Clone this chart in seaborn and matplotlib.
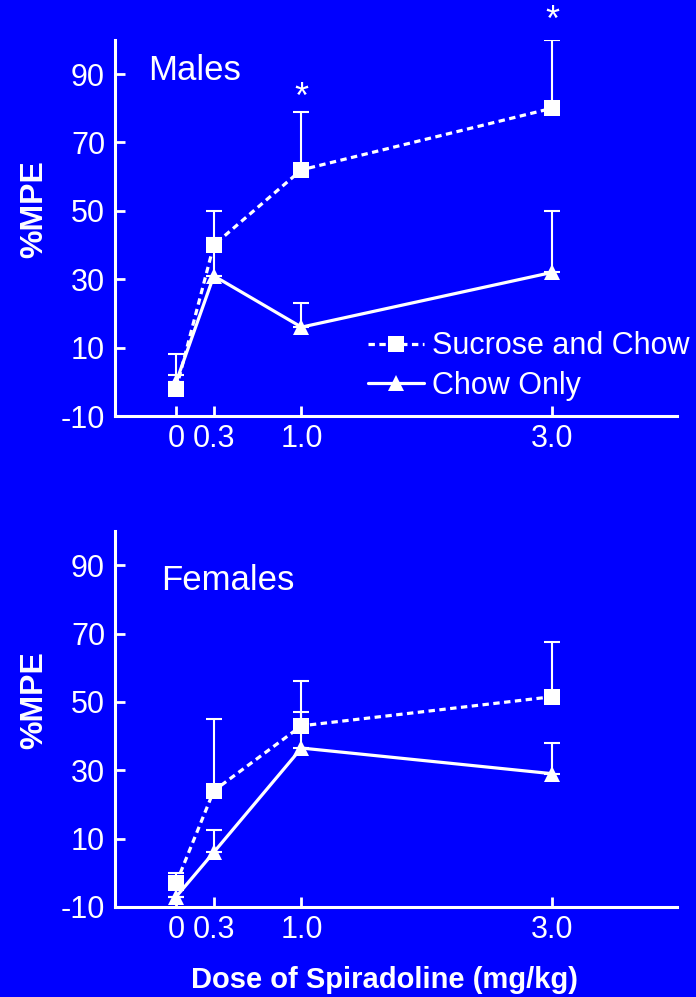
import numpy as np
import pandas as pd
import matplotlib
matplotlib.use("Agg")
import matplotlib.pyplot as plt
import seaborn as sns
from matplotlib.lines import Line2D

doses = [0.0, 0.3, 1.0, 3.0]
dose_labels = ["0", "0.3", "1.0", "3.0"]
yticks = [-10, 10, 30, 50, 70, 90]

male_sucrose = [-2, 40, 62, 80]
male_sucrose_err = [10, 10, 17, 20]
male_chow = [0, 31, 16, 32]
male_chow_err = [2, 11, 7, 18]

female_sucrose = [-3, 24, 43, 51.5]
female_sucrose_err = [3, 21, 13, 16]
female_chow = [-7, 6, 36.5, 29]
female_chow_err = [0, 6.5, 10.5, 9]

groups = ["Sucrose and Chow", "Chow Only"]
panels = ["Males", "Females"]

BG = "#0000FF"
FG = "white"

sns.set_theme(style="white", rc={"axes.facecolor": BG, "figure.facecolor": BG})
plt.rcParams['font.family'] = ['Liberation Sans', 'DejaVu Sans']
plt.rcParams['axes.unicode_minus'] = False

rows = []
for panel, s, se, c, ce in [("Males", male_sucrose, male_sucrose_err, male_chow, male_chow_err),
                            ("Females", female_sucrose, female_sucrose_err, female_chow, female_chow_err)]:
    for d, v, e in zip(doses, s, se):
        rows.append(dict(panel=panel, group=groups[0], dose=d, mpe=v, err=e))
    for d, v, e in zip(doses, c, ce):
        rows.append(dict(panel=panel, group=groups[1], dose=d, mpe=v, err=e))
df = pd.DataFrame(rows)

fig = plt.figure(figsize=(6.96, 9.97), dpi=100)
ax_top = fig.add_axes([0.165, 0.5827, 0.808, 0.3773])
ax_bot = fig.add_axes([0.165, 0.0903, 0.808, 0.3771])

lw = 2.3
ms = 12

for ax, panel in [(ax_top, "Males"), (ax_bot, "Females")]:
    sub = df[df.panel == panel]
    for g in groups:
        d = sub[sub.group == g]
        ax.errorbar(d.dose, d.mpe, yerr=[np.zeros(len(d)), d.err], fmt="none",
                    ecolor=FG, elinewidth=1.5, capsize=6, capthick=1.5, zorder=2)
    sns.lineplot(data=sub, x="dose", y="mpe", hue="group", style="group",
                 palette={g: FG for g in groups},
                 markers={groups[0]: "s", groups[1]: "^"},
                 dashes={groups[0]: (2, 1.4), groups[1]: ""},
                 markersize=ms, markeredgewidth=0, linewidth=lw,
                 legend=False, ax=ax, zorder=3)
    ax.set_xlim(-0.49, 4.0)
    ax.set_ylim(-10, 100)
    ax.set_xticks(doses)
    ax.set_xticklabels(dose_labels)
    ax.set_yticks(yticks)
    for sp in ["top", "right"]:
        ax.spines[sp].set_visible(False)
    for sp in ["left", "bottom"]:
        ax.spines[sp].set_color(FG)
        ax.spines[sp].set_linewidth(2.2)
    ax.tick_params(axis="both", direction="in", length=7, width=2, colors=FG,
                   labelsize=22, labelcolor=FG, pad=6, left=True, bottom=True)
    ax.tick_params(axis="y", pad=7)
    ax.set_xlabel("")
    ax.set_ylabel("%MPE", color=FG, fontsize=23, fontweight="bold")
    ax.yaxis.set_label_coords(-0.116, 0.55)

ax_top.text(-0.224, 91, "Males", color=FG, fontsize=25, va="center", ha="left")
ax_bot.text(-0.12, 85.5, "Females", color=FG, fontsize=25, va="center", ha="left")

ax_top.text(1.0, 83, "*", color=FG, fontsize=26, ha="center", va="center", clip_on=False)
ax_top.text(3.0, 105.5, "*", color=FG, fontsize=26, ha="center", va="center", clip_on=False)

handles = [Line2D([], [], color=FG, lw=lw, dashes=(2, 1.4), marker="s", markersize=ms, markeredgewidth=0),
           Line2D([], [], color=FG, lw=lw, marker="^", markersize=ms, markeredgewidth=0)]
leg = ax_top.legend(handles, groups, loc="upper left", bbox_to_anchor=(0.45, 0.225),
                    frameon=False, fontsize=22, handlelength=1.85, handletextpad=0.25,
                    labelspacing=0.3, borderaxespad=0, borderpad=0)
for t in leg.get_texts():
    t.set_color(FG)

fig.text(385 / 696, 1 - 980 / 997, "Dose of Spiradoline (mg/kg)", color=FG, fontsize=21,
         fontweight="bold", ha="center", va="center")

fig.savefig("out.png", dpi=100, facecolor=BG)
